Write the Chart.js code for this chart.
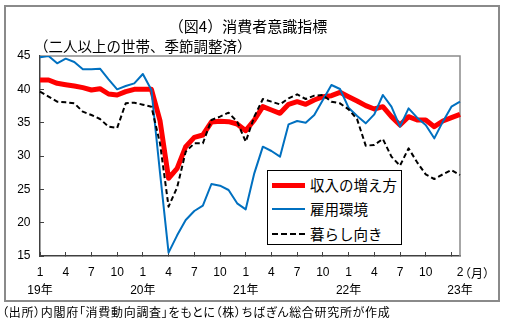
<!DOCTYPE html>
<html>
<head>
<meta charset="utf-8">
<script src="https://cdn.jsdelivr.net/npm/chart.js@4.4.1/dist/chart.umd.min.js"></script>
<style>
  html, body { margin: 0; padding: 0; background: #fff; }
  body { width: 505px; height: 326px; position: relative; overflow: hidden;
         font-family: "Noto Sans CJK JP", "Liberation Sans", sans-serif; }
  #frame { position: absolute; left: 4px; top: 5px; width: 492px; height: 293px; border: 2px solid #8a8a8a; }
  #c { position: absolute; left: 0; top: 0; }
  .txt { position: absolute; white-space: nowrap; color: #000; line-height: 1; }
  #title { left: 0; width: 496px; top: 18px; text-align: center; font-size: 15px; }
  #subtitle { left: 34px; top: 39px; font-size: 14.5px; }
  #unit { left: 459px; top: 267px; font-size: 12px; }
  #source { left: 2px; top: 306px; font-size: 12px; letter-spacing: 0.7px; font-feature-settings: "palt"; }
  #legend { position: absolute; left: 267px; top: 170px; width: 133px; height: 73px;
            border: 1px solid #000; background: #fff; }
  .row { position: absolute; left: 0; height: 20px; width: 133px; }
  .sw { position: absolute; left: 4px; width: 33px; top: 50%; }
  .lab { position: absolute; left: 42px; top: 50%; transform: translateY(-50%); font-size: 14.5px; white-space: nowrap; line-height: 1; }
</style>
</head>
<body>
<div id="frame"></div>
<canvas id="c" width="505" height="326"></canvas>
<div class="txt" id="title">（図4）消費者意識指標</div>
<div class="txt" id="subtitle">（二人以上の世帯、季節調整済）</div>
<div class="txt" id="unit">（月）</div>
<div class="txt" id="source">（出所）内閣府「消費動向調査」をもとに（株）ちばぎん総合研究所が作成</div>
<div id="legend"></div>
<script>
// ---- data (Jan 2019 .. Feb 2023, monthly) ----
const months = [1,2,3,4,5,6,7,8,9,10,11,12, 1,2,3,4,5,6,7,8,9,10,11,12,
                1,2,3,4,5,6,7,8,9,10,11,12, 1,2,3,4,5,6,7,8,9,10,11,12, 1,2];
const yearLabels = ["19年","20年","21年","22年","23年"];
const seriesNames = ["収入の増え方","雇用環境","暮らし向き"];
const income = [41.4,41.4,40.9,40.7,40.5,40.25,39.9,40.1,39.3,39.15,39.65,40.0,
                40.0,40.0,35.3,26.65,28.15,31.4,32.8,33.15,35.1,35.2,35.15,34.8,
                33.8,35.4,37.4,36.9,36.4,37.75,38.15,37.75,38.4,38.9,39.05,39.55,
                38.9,38.25,37.55,37.05,37.4,35.9,34.65,35.9,35.4,35.4,34.4,35.25,
                35.75,36.25];
const employment = [44.8,45.0,43.9,44.6,44.1,43.0,43.0,43.1,41.5,40.0,40.5,40.9,
                    42.3,39.9,27.5,15.5,18.1,20.4,21.75,22.55,25.8,25.55,24.9,22.9,
                    22.0,27.4,31.4,30.75,29.9,34.75,35.25,35.0,36.15,38.4,40.65,40.05,
                    37.25,36.0,34.9,36.25,39.15,37.4,34.4,37.15,35.75,34.65,32.65,35.15,
                    37.4,38.15];
const livelihood = [39.65,38.9,38.15,38.05,37.9,36.65,36.15,35.55,34.4,34.2,37.9,38.0,
                    37.7,37.4,31.9,22.4,25.3,30.65,31.9,31.9,35.4,35.9,36.5,35.15,
                    32.15,35.9,38.55,38.15,37.75,38.65,39.25,38.55,39.05,39.15,38.15,37.9,
                    37.0,35.5,31.55,31.65,32.55,29.9,28.55,31.15,29.05,27.25,26.55,27.25,
                    27.9,27.15];
const yTicks = {min: 15, max: 45, step: 5};

const colors = ["#ff0000", "#0070c0", "#000000"];

const labels = months.map((m, i) => i);

const datasets = [
  { label: seriesNames[0], data: income, borderColor: colors[0], borderWidth: 5, order: 3 },
  { label: seriesNames[1], data: employment, borderColor: colors[1], borderWidth: 2, order: 2 },
  { label: seriesNames[2], data: livelihood, borderColor: colors[2], borderWidth: 2, borderDash: [5, 3], order: 1 }
].map(d => Object.assign({ pointRadius: 0, tension: 0, fill: false, borderJoinStyle: 'round', borderCapStyle: 'butt' }, d));

const framePlugin = {
  id: 'plotFrame',
  beforeDatasetsDraw(chart) {
    const {ctx, chartArea: a} = chart;
    ctx.save();
    ctx.strokeStyle = '#8a8a8a';
    ctx.lineWidth = 1.5;
    ctx.beginPath();
    ctx.moveTo(a.left, a.top);
    ctx.lineTo(a.right, a.top);
    ctx.lineTo(a.right, a.bottom);
    ctx.stroke();
    ctx.restore();
  }
};

const numFont = { family: "'Liberation Sans', 'Noto Sans CJK JP', sans-serif", size: 12, lineHeight: 1.5 };

new Chart(document.getElementById('c'), {
  type: 'line',
  data: { labels, datasets },
  options: {
    responsive: false,
    animation: false,
    events: [],
    layout: { padding: { left: 0, top: 56, right: 45, bottom: 20 } },
    plugins: { legend: { display: false }, tooltip: { enabled: false }, title: { display: false } },
    scales: {
      x: {
        type: 'category',
        offset: false,
        afterFit(s) { s.height = 50; },
        border: { display: true, color: '#404040', width: 1.5 },
        grid: {
          drawOnChartArea: false, drawTicks: true, tickLength: -4, lineWidth: 1,
          color: (c) => (c.index % 3 === 0 ? '#404040' : 'rgba(0,0,0,0)')
        },
        ticks: {
          autoSkip: false, maxRotation: 0, minRotation: 0, padding: 12, color: '#000', font: numFont,
          callback: (v, i) => {
            const m = months[i];
            const yr = Math.floor(i / 12);
            if (i === months.length - 1) return [String(m), yearLabels[yr]];
            if (i === months.length - 2) return '';
            if (i % 12 === 0) return [String(m), yearLabels[yr]];
            if (i % 3 === 0) return String(m);
            return '';
          }
        }
      },
      y: {
        min: yTicks.min, max: yTicks.max,
        afterFit(s) { s.width = 40; },
        border: { display: true, color: '#404040', width: 1.5 },
        grid: { drawOnChartArea: false, drawTicks: true, tickLength: -4, color: '#404040' },
        ticks: { stepSize: yTicks.step, padding: 13.5, color: '#000', font: numFont }
      }
    }
  },
  plugins: [framePlugin]
});

// HTML legend built from the datasets
const legend = document.getElementById('legend');
const rowTops = [4, 28, 53];
datasets.forEach((d, k) => {
  const row = document.createElement('div');
  row.className = 'row';
  row.style.top = rowTops[k] + 'px';
  const sw = document.createElement('div');
  sw.className = 'sw';
  const w = d.borderWidth;
  sw.style.borderTop = w + 'px ' + (d.borderDash ? 'dashed ' : 'solid ') + d.borderColor;
  sw.style.marginTop = (-w / 2) + 'px';
  const lab = document.createElement('div');
  lab.className = 'lab';
  lab.textContent = d.label;
  row.appendChild(sw);
  row.appendChild(lab);
  legend.appendChild(row);
});
</script>
</body>
</html>
